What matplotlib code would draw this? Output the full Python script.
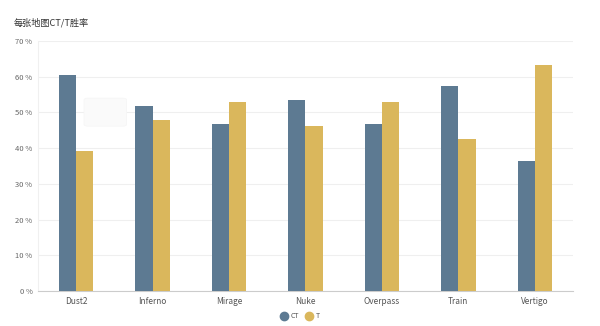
import matplotlib.pyplot as plt
import numpy as np
from matplotlib.patches import FancyBboxPatch

plt.rcParams['font.family'] = ['Noto Sans CJK SC', 'DejaVu Sans']

# 每张地图的CT/T胜率 (%)
maps = ['Dust2', 'Inferno', 'Mirage', 'Nuke', 'Overpass', 'Train', 'Vertigo']
ct_rate = [60.6, 51.9, 46.8, 53.6, 46.9, 57.3, 36.3]
t_rate = [39.3, 48.0, 52.9, 46.2, 52.8, 42.5, 63.4]
y_ticks = [0, 10, 20, 30, 40, 50, 60, 70]

ct_color = '#5d7a92'
t_color = '#dab75c'

fig = plt.figure(figsize=(6, 3.26), dpi=100)
ax = fig.add_axes([0.0633, 0.1074, 0.8917, 0.7666])

x = np.arange(len(maps))
w = 0.225
ax.bar(x - w / 2, ct_rate, width=w, color=ct_color, label='CT', zorder=3)
ax.bar(x + w / 2, t_rate, width=w, color=t_color, label='T', zorder=3)

ax.set_xlim(-0.5, len(maps) - 0.5)
ax.set_ylim(0, 70)
ax.set_yticks(y_ticks)
ax.set_yticklabels([f'{v} %' for v in y_ticks], fontsize=5.5, color='#666666')
ax.set_xticks(x)
ax.set_xticklabels(maps, fontsize=6, color='#555555')
ax.tick_params(axis='both', length=0, pad=4)
ax.grid(axis='y', color='#efefef', linewidth=0.8, zorder=0)

for s in ['top', 'right']:
    ax.spines[s].set_visible(False)
ax.spines['left'].set_color('#f0f0f0')
ax.spines['bottom'].set_color('#cccccc')

# 淡淡的提示框
box = FancyBboxPatch((0.14, 0.613), 0.071, 0.086, boxstyle='round,pad=0,rounding_size=0.006',
                     transform=fig.transFigure, facecolor='#fafafa', edgecolor='#f5f5f5',
                     linewidth=0.5, zorder=5)
fig.patches.append(box)

fig.text(0.022, 0.93, '每张地图CT/T胜率', fontsize=6.6, color='#333333', va='center')

# 图例用圆点
h_ct = plt.Line2D([], [], marker='o', linestyle='', markersize=6, color=ct_color)
h_t = plt.Line2D([], [], marker='o', linestyle='', markersize=6, color=t_color)
fig.legend([h_ct, h_t], ['CT', 'T'], loc='center', bbox_to_anchor=(0.5, 0.03), ncol=2,
           frameon=False, fontsize=5, handlelength=1.0, columnspacing=0.9,
           handletextpad=0.5, labelcolor='#555555')

fig.savefig('out.png', dpi=100)
